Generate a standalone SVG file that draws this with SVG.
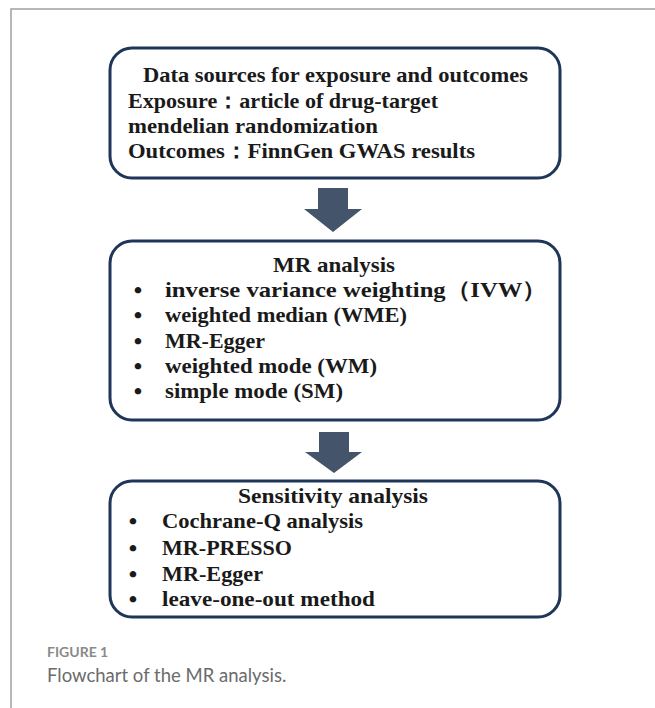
<svg xmlns="http://www.w3.org/2000/svg" width="655" height="708" viewBox="0 0 655 708">
<style>
.box{fill:#fff;stroke:#1f3658;stroke-width:3}
.t{font-family:"Liberation Serif",serif;font-weight:bold;font-size:22px;fill:#1a1a1a}
.b{font-family:"Liberation Serif",serif;font-weight:bold;font-size:24px;fill:#1a1a1a;text-anchor:middle}
.arrow{fill:#44546a}
.cap1{font-family:Lato,"Open Sans",sans-serif;font-weight:bold;font-size:14px;fill:#8a8a8a}
.cap2{font-family:Lato,"Open Sans",sans-serif;font-size:18.5px;fill:#6b6b6b}
</style>
<rect width="655" height="708" fill="#fff"/>
<path d="M11 708 V9 H655" fill="none" stroke="#a0a0a0" stroke-width="1.5"/>
<g id="node-data">
<rect class="box" x="110" y="48" width="450" height="130" rx="22"/>
<text class="t" x="143" y="82" textLength="385" lengthAdjust="spacingAndGlyphs">Data sources for exposure and outcomes</text>
<text class="t" x="128" y="108" textLength="310" lengthAdjust="spacingAndGlyphs">Exposure：article of drug-target</text>
<text class="t" x="128" y="133" textLength="250" lengthAdjust="spacingAndGlyphs">mendelian randomization</text>
<text class="t" x="128" y="158" textLength="347" lengthAdjust="spacingAndGlyphs">Outcomes：FinnGen GWAS results</text>
</g>
<g id="node-mr">
<rect class="box" x="110" y="241" width="450" height="179" rx="22"/>
<text class="t" x="273" y="272" textLength="122" lengthAdjust="spacingAndGlyphs">MR analysis</text>
<text class="b" x="138" y="298">•</text><text class="t" x="165" y="297" textLength="382" lengthAdjust="spacingAndGlyphs">inverse variance weighting（IVW）</text>
<text class="b" x="138" y="323">•</text><text class="t" x="165" y="322" textLength="242" lengthAdjust="spacingAndGlyphs">weighted median (WME)</text>
<text class="b" x="138" y="349">•</text><text class="t" x="165" y="348" textLength="100" lengthAdjust="spacingAndGlyphs">MR-Egger</text>
<text class="b" x="138" y="374">•</text><text class="t" x="165" y="373" textLength="212" lengthAdjust="spacingAndGlyphs">weighted mode (WM)</text>
<text class="b" x="138" y="399">•</text><text class="t" x="165" y="398" textLength="178" lengthAdjust="spacingAndGlyphs">simple mode (SM)</text>
</g>
<g id="node-sens">
<rect class="box" x="110" y="481" width="450" height="136" rx="22"/>
<text class="t" x="238" y="503" textLength="190" lengthAdjust="spacingAndGlyphs">Sensitivity analysis</text>
<text class="b" x="133" y="529">•</text><text class="t" x="162" y="528" textLength="201" lengthAdjust="spacingAndGlyphs">Cochrane-Q analysis</text>
<text class="b" x="133" y="556">•</text><text class="t" x="162" y="555" textLength="130" lengthAdjust="spacingAndGlyphs">MR-PRESSO</text>
<text class="b" x="133" y="582">•</text><text class="t" x="162" y="581" textLength="101" lengthAdjust="spacingAndGlyphs">MR-Egger</text>
<text class="b" x="133" y="607">•</text><text class="t" x="162" y="606" textLength="213" lengthAdjust="spacingAndGlyphs">leave-one-out method</text>
</g>
<g id="connectors">
<path class="arrow" d="M318 188 H348 V209 H362 L333 232 L304 209 H318 Z"/>
<path class="arrow" d="M319 432 H349 V452 H362 L334 473 L305 452 H319 Z"/>
</g>
<g id="caption">
<text class="cap1" x="47" y="657">FIGURE 1</text>
<text class="cap2" x="47" y="682">Flowchart of the MR analysis.</text>
</g>
</svg>
